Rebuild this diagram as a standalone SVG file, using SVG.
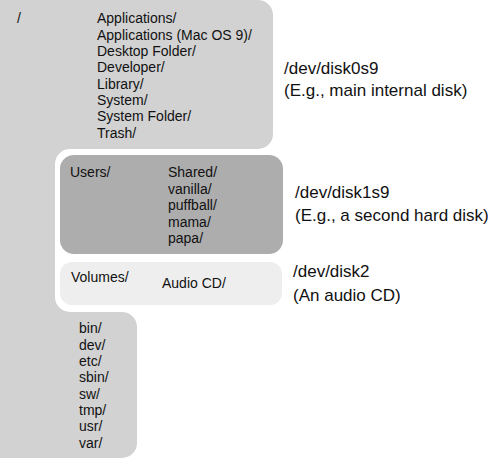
<svg xmlns="http://www.w3.org/2000/svg" width="492" height="458" viewBox="0 0 492 458">
<style>
.t{font-family:"Liberation Sans",Arial,sans-serif;font-size:14px;fill:#111}
.l{font-family:"Liberation Sans",Arial,sans-serif;font-size:17px;fill:#111}
</style>
<rect width="492" height="458" fill="#ffffff"/>
<g id="root">
<path d="M0,0 H258 A15,15 0 0 1 273,15 V134 A15,15 0 0 1 258,149 H70 A15,15 0 0 0 55,164 V297 A15,15 0 0 0 70,312 H122 A15,15 0 0 1 137,327 V443 A15,15 0 0 1 122,458 H0 Z" fill="#d2d2d2"/>
<text class="t" x="17" y="23">/</text>
<text class="t" x="97" y="23">Applications/</text>
<text class="t" x="97" y="39.5">Applications (Mac OS 9)/</text>
<text class="t" x="97" y="56">Desktop Folder/</text>
<text class="t" x="97" y="72">Developer/</text>
<text class="t" x="97" y="88.5">Library/</text>
<text class="t" x="97" y="105">System/</text>
<text class="t" x="97" y="121">System Folder/</text>
<text class="t" x="97" y="137.5">Trash/</text>
<text class="t" x="79" y="333">bin/</text>
<text class="t" x="79" y="349.5">dev/</text>
<text class="t" x="79" y="366">etc/</text>
<text class="t" x="79" y="382">sbin/</text>
<text class="t" x="79" y="398.5">sw/</text>
<text class="t" x="79" y="415">tmp/</text>
<text class="t" x="79" y="431">usr/</text>
<text class="t" x="79" y="447.5">var/</text>
<text class="l" x="284" y="74">/dev/disk0s9</text>
<text class="l" x="284" y="96">(E.g., main internal disk)</text>
</g>
<g id="users">
<rect x="60" y="155" width="223" height="99" rx="14" fill="#adadad"/>
<text class="t" x="70" y="177">Users/</text>
<text class="t" x="168" y="177">Shared/</text>
<text class="t" x="168" y="193.5">vanilla/</text>
<text class="t" x="168" y="210">puffball/</text>
<text class="t" x="168" y="226.5">mama/</text>
<text class="t" x="168" y="243">papa/</text>
<text class="l" x="295" y="198">/dev/disk1s9</text>
<text class="l" x="295" y="221">(E.g., a second hard disk)</text>
</g>
<g id="volumes">
<rect x="60" y="262" width="222" height="43" rx="12" fill="#eeeeee"/>
<text class="t" x="71" y="282">Volumes/</text>
<text class="t" x="162" y="288">Audio CD/</text>
<text class="l" x="293" y="277">/dev/disk2</text>
<text class="l" x="293" y="301">(An audio CD)</text>
</g>
<g id="connectors"/>
</svg>
